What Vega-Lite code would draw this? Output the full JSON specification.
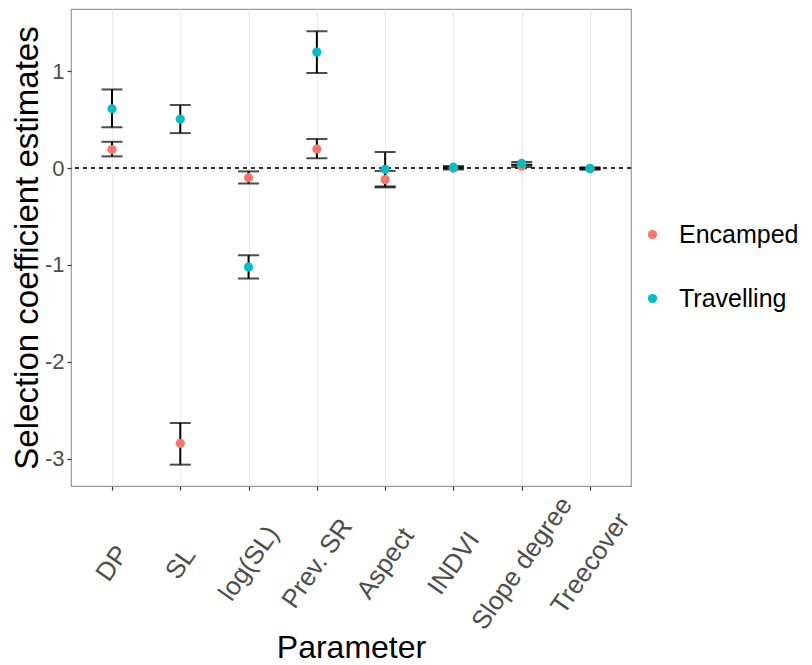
{
  "$schema": "https://vega.github.io/schema/vega-lite/v6.json",
  "width": 560,
  "height": 477,
  "autosize": {"type": "none"},
  "padding": {"left": 71, "top": 9, "right": 181, "bottom": 179},
  "background": "white",
  "config": {
    "font": "Liberation Sans",
    "view": {"stroke": "#9a9a9a", "strokeWidth": 1.2},
    "axis": {"gridColor": "#EBEBEB", "gridWidth": 1.2, "domain": false, "tickColor": "#333333", "tickSize": 4, "tickWidth": 1.2, "labelColor": "#4D4D4D", "titleFontWeight": "normal", "titleColor": "black"}
  },
  "data": {
    "values": [
      {"param": "DP", "group": "Encamped", "est": 0.19, "lo": 0.12, "hi": 0.27},
      {"param": "DP", "group": "Travelling", "est": 0.61, "lo": 0.42, "hi": 0.81},
      {"param": "SL", "group": "Encamped", "est": -2.84, "lo": -3.06, "hi": -2.63},
      {"param": "SL", "group": "Travelling", "est": 0.505, "lo": 0.36, "hi": 0.65},
      {"param": "log(SL)", "group": "Encamped", "est": -0.10, "lo": -0.16, "hi": -0.035},
      {"param": "log(SL)", "group": "Travelling", "est": -1.02, "lo": -1.14, "hi": -0.90},
      {"param": "Prev. SR", "group": "Encamped", "est": 0.196, "lo": 0.10, "hi": 0.30},
      {"param": "Prev. SR", "group": "Travelling", "est": 1.196, "lo": 0.98, "hi": 1.41},
      {"param": "Aspect", "group": "Encamped", "est": -0.12, "lo": -0.20, "hi": -0.03},
      {"param": "Aspect", "group": "Travelling", "est": -0.013, "lo": -0.19, "hi": 0.165},
      {"param": "INDVI", "group": "Encamped", "est": -0.003, "lo": -0.015, "hi": 0.01},
      {"param": "INDVI", "group": "Travelling", "est": 0.008, "lo": -0.005, "hi": 0.02},
      {"param": "Slope degree", "group": "Encamped", "est": 0.02, "lo": 0.01, "hi": 0.035},
      {"param": "Slope degree", "group": "Travelling", "est": 0.047, "lo": 0.03, "hi": 0.062},
      {"param": "Treecover", "group": "Encamped", "est": -0.008, "lo": -0.015, "hi": 0.003},
      {"param": "Treecover", "group": "Travelling", "est": -0.005, "lo": -0.013, "hi": 0.005}
    ]
  },
  "encoding": {
    "x": {
      "field": "param", "type": "nominal", "sort": null,
      "scale": {"type": "point", "padding": 0.6},
      "axis": {"title": "Parameter", "labelAngle": -55, "labelAlign": "center", "labelBaseline": "middle", "labelPadding": 73, "labelFontSize": 26, "titleFontSize": 32, "titlePadding": -1, "grid": true}
    }
  },
  "layer": [
    {
      "mark": {"type": "rule", "strokeDash": [4, 4], "color": "#333333", "strokeWidth": 1.1},
      "encoding": {"y": {"datum": 0, "type": "quantitative"}, "x": null}
    },
    {
      "mark": {"type": "rule", "color": "black", "strokeWidth": 2},
      "encoding": {
        "y": {
          "field": "lo", "type": "quantitative",
          "scale": {"domain": [-3.28, 1.64], "nice": false, "zero": false},
          "axis": {
            "title": "Selection coefficient estimates",
            "values": [-3, -2.5, -2, -1.5, -1, -0.5, 0, 0.5, 1, 1.5],
            "labelExpr": "datum.value % 1 == 0 ? toString(datum.value) : ''",
            "tickColor": {"condition": {"test": "datum.value % 1 != 0", "value": "transparent"}, "value": "#333333"},
            "gridWidth": {"condition": {"test": "datum.value % 1 != 0", "value": 0.7}, "value": 1.3},
            "labelFontSize": 22,
            "labelPadding": 3,
            "titleFontSize": 33,
            "titlePadding": 0
          }
        },
        "y2": {"field": "hi"}
      }
    },
    {
      "mark": {"type": "tick", "orient": "horizontal", "color": "black", "thickness": 2, "size": 21},
      "encoding": {"y": {"field": "lo", "type": "quantitative"}}
    },
    {
      "mark": {"type": "tick", "orient": "horizontal", "color": "black", "thickness": 2, "size": 21},
      "encoding": {"y": {"field": "hi", "type": "quantitative"}}
    },
    {
      "mark": {"type": "point", "filled": true, "opacity": 1, "size": 85},
      "encoding": {
        "y": {"field": "est", "type": "quantitative"},
        "color": {
          "field": "group", "type": "nominal",
          "scale": {"domain": ["Encamped", "Travelling"], "range": ["#F8766D", "#00BFC4"]},
          "legend": {"title": null, "orient": "none", "legendX": 569, "legendY": 213, "labelFontSize": 25, "labelColor": "black", "symbolSize": 85, "symbolType": "circle", "rowPadding": 38, "labelOffset": 14}
        }
      }
    }
  ]
}
